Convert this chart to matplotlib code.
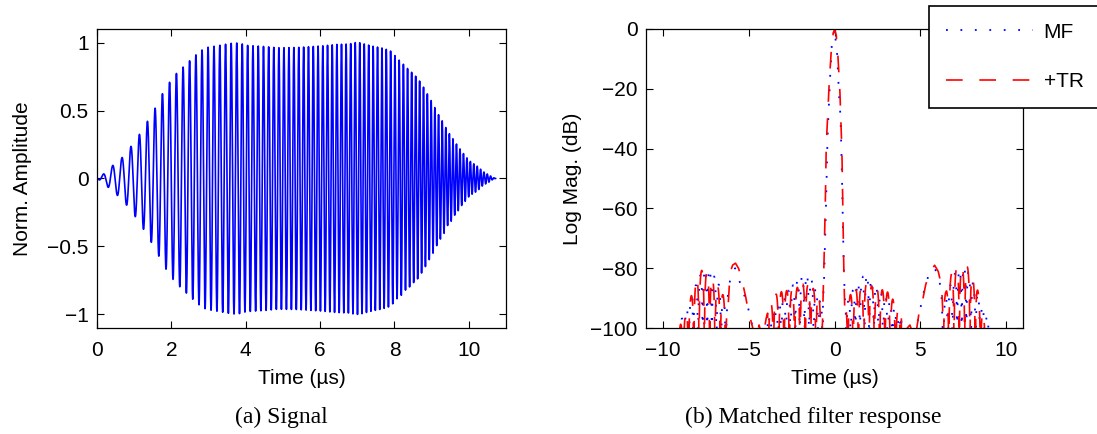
import numpy as np
import matplotlib
matplotlib.use("Agg")
import matplotlib.pyplot as plt

plt.rcParams["font.family"] = ["Liberation Sans", "DejaVu Sans"]
plt.rcParams["font.size"] = 15

# (a) signal: envelope read at the peaks (time in us, normalised amplitude)
env_t = [0, 0.17, 0.41, 0.66, 0.91, 1.13, 1.35, 1.56, 1.75, 1.93, 2.11, 2.28,
         2.46, 2.62, 2.79, 2.95, 3.26, 3.56, 3.72, 3.87, 4.01, 4.3, 4.57, 4.85,
         5.38, 6.06, 6.42, 6.78, 6.95, 7.05, 7.41, 7.64, 7.88, 7.98, 8.09, 8.19,
         8.3, 8.4, 8.5, 8.62, 8.73, 8.84, 8.93, 9.04, 9.13, 9.23, 9.34, 9.43,
         9.53, 9.62, 9.72, 9.81, 9.9, 9.99, 10.08, 10.18, 10.27, 10.36, 10.45,
         10.54, 10.63, 10.72]
env_a = [0, 0.032, 0.093, 0.15, 0.235, 0.32, 0.418, 0.516, 0.619, 0.70, 0.766,
         0.81, 0.858, 0.90, 0.94, 0.964, 0.978, 0.993, 0.998, 0.993, 0.98, 0.975,
         0.97, 0.962, 0.964, 0.976, 0.986, 0.99, 1.0, 1.0, 0.974, 0.962, 0.942,
         0.915, 0.878, 0.858, 0.82, 0.80, 0.77, 0.74, 0.695, 0.645, 0.60, 0.548,
         0.497, 0.448, 0.40, 0.345, 0.313, 0.27, 0.235, 0.198, 0.169, 0.137,
         0.117, 0.10, 0.081, 0.056, 0.04, 0.027, 0.01, 0.0]
# chirp frequency (MHz) read from the cycle spacing
freq_t = [0, 0.7, 1.5, 2.8, 4.0, 5.4, 6.7, 8.1, 9.3, 10.72]
freq_f = [3.9, 4.05, 4.9, 6.1, 6.9, 7.6, 8.1, 8.7, 10.3, 11.3]
first_peak = 0.17

# (b) matched filter response, upper envelopes in dB
mf_t = [-11, -9.4, -9.0, -8.6, -8.2, -7.8, -7.4, -7.0, -6.6, -6.3, -6.1, -5.8,
        -5.45, -5.2, -4.96, -4.7, -4.4, -4.1, -3.8, -3.4, -3.0, -2.6, -2.2,
        -1.8, -1.5, -1.2, -0.9, -0.7, -0.62, -0.55, -0.49, -0.45, -0.40, -0.29,
        -0.15, 0, 0.15, 0.25, 0.35, 0.41, 0.45, 0.49, 0.53, 0.6, 0.66, 0.9, 1.2,
        1.5, 1.9, 2.2, 2.6, 3.0, 3.4, 3.8, 4.1, 4.4, 4.7, 4.95, 5.2, 5.5, 5.84,
        6.1, 6.3, 6.6, 7.0, 7.5, 7.8, 8.2, 8.6, 9.0, 9.4, 11]
mf_db = [-130, -103, -98, -93, -87, -82, -79, -83, -87, -92, -84, -80, -86,
         -90, -95, -102, -104, -101, -96, -92, -89, -87, -84, -82, -82, -85,
         -89, -93, -86, -70, -58, -46, -35, -20, -4, 0, -8, -21, -29, -42, -54,
         -67, -78, -90, -93, -89, -86, -83, -82, -84, -87, -89, -92, -96, -101,
         -104, -102, -95, -88, -82, -80, -83, -92, -88, -82, -79, -81, -86, -92,
         -97, -103, -130]
tr_t = [-11, -9.3, -9.0, -8.7, -8.4, -8.1, -7.9, -7.6, -7.3, -7.0, -6.7, -6.4,
        -6.2, -6.1, -5.95, -5.78, -5.6, -5.4, -5.2, -5.05, -4.9, -4.6, -4.4,
        -4.2, -4.0, -3.8, -3.5, -3.2, -2.8, -2.4, -2.0, -1.8, -1.4, -1.0, -0.8,
        -0.7, -0.62, -0.54, -0.49, -0.33, -0.18, -0.08, 0.01, 0.1, 0.18, 0.31,
        0.43, 0.49, 0.54, 0.6, 0.7, 0.9, 1.3, 1.7, 1.9, 2.2, 2.6, 3.0, 3.3, 3.6,
        3.9, 4.1, 4.4, 4.7, 4.9, 5.1, 5.3, 5.5, 5.84, 6.05, 6.25, 6.5, 6.9, 7.4,
        7.7, 8.0, 8.3, 8.6, 8.85, 9.1, 11]
tr_db = [-130, -104, -99, -95, -90, -84, -81, -80.5, -82, -84, -87, -90, -92,
         -81.5, -79, -78.3, -80, -84, -89, -94, -97, -104, -99, -104, -97, -93,
         -89, -88, -87.5, -87, -86, -85, -86, -88, -91, -95, -80, -60, -40, -20,
         -6, -1.5, 0, -2, -7, -20, -40, -60, -80, -95, -92, -89, -87, -86, -85,
         -86, -87, -87.5, -89, -93, -96, -101, -99, -104, -96, -92, -86, -82,
         -79, -81, -86, -88, -80.5, -79.5, -79, -82, -86, -93, -100, -106, -130]
# stretches where the response has fine nulls, and their spacing (us)
null_spans = [(-9.3, -6.2), (-3.9, -0.68), (0.66, 3.9), (6.25, 9.3)]
mf_null_step = 0.27
tr_null_step = 0.31

# build signal
t = np.linspace(0, env_t[-1], 20000)
dt = t[1] - t[0]
f = np.interp(t, freq_t, freq_f)
phase = 2 * np.pi * np.cumsum(f) * dt
phase += np.pi / 2 - np.interp(first_peak, t, phase)
sig = np.interp(t, env_t, env_a) * np.sin(phase)

# build responses
tt = np.linspace(-11, 11, 8001)
inside = np.zeros(tt.shape, bool)
for a, b in null_spans:
    inside |= (tt > a) & (tt < b)


def response(kt, kdb, step):
    env = np.interp(tt, kt, kdb)
    nulls = 20 * np.log10(np.abs(np.cos(np.pi * tt / step)) + 1e-4)
    return np.maximum(np.where(inside, env + nulls, env), -140)


mf = response(mf_t, mf_db, mf_null_step)
tr = response(tr_t, tr_db, tr_null_step)

fig = plt.figure(figsize=(10.97, 4.34), dpi=100)
ax1 = fig.add_axes([97 / 1097, 1 - 328 / 434, 409 / 1097, 299 / 434])
ax2 = fig.add_axes([646 / 1097, 1 - 328 / 434, 377 / 1097, 299 / 434])

ax1.plot(t, sig, color="b", lw=1.2)
ax1.set_xlim(0, 11)
ax1.set_ylim(-1.1, 1.1)
ax1.set_xticks([0, 2, 4, 6, 8, 10])
ax1.set_yticks([-1, -0.5, 0, 0.5, 1])
ax1.set_yticklabels(["\u22121", "\u22120.5", "0", "0.5", "1"])
ax1.set_xlabel("Time (\u00b5s)", labelpad=7)
ax1.set_ylabel("Norm. Amplitude", labelpad=11)

ax2.plot(tt, mf, color="b", lw=1.3, ls=(0, (1, 7)), label="MF")
ax2.plot(tt, tr, color="r", lw=1.2, ls=(0, (10, 10)), label="+TR")
ax2.set_xlim(-11, 11)
ax2.set_ylim(-100, 0)
ax2.set_xticks([-10, -5, 0, 5, 10])
ax2.set_yticks([-100, -80, -60, -40, -20, 0])
ax2.set_xlabel("Time (\u00b5s)", labelpad=7)
ax2.set_ylabel("Log Mag. (dB)", labelpad=6)

for ax in (ax1, ax2):
    ax.tick_params(direction="in", top=True, right=True, length=5, width=0.8)
    ax.tick_params(axis="x", pad=9)
    ax.tick_params(axis="y", pad=6)
    for s in ax.spines.values():
        s.set_linewidth(0.9)

leg = ax2.legend(loc="upper left", bbox_to_anchor=(929 / 1097, 1 - 6 / 434),
                 bbox_transform=fig.transFigure, fancybox=False, framealpha=1,
                 edgecolor="k", handlelength=4.2, handletextpad=0.5,
                 labelspacing=1.45, borderpad=0.8, borderaxespad=0)
leg.get_frame().set_linewidth(1.2)

fig.text(281 / 1097, 1 - 417 / 434, "(a) Signal", ha="center", va="center",
         family="Liberation Serif", fontsize=17)
fig.text(813 / 1097, 1 - 417 / 434, "(b) Matched filter response", ha="center",
         va="center", family="Liberation Serif", fontsize=17)

fig.savefig("out.png", dpi=100)
